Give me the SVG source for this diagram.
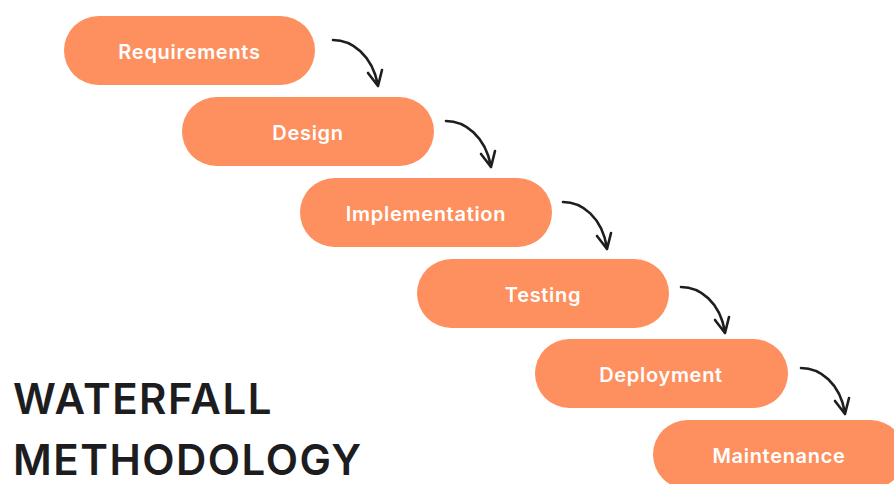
<svg xmlns="http://www.w3.org/2000/svg" width="894" height="484" viewBox="0 0 894 484">
<style>
.pill{fill:#FE8F5F;}
.lbl{font-family:Inter,"Noto Sans",sans-serif;font-size:20px;font-weight:600;letter-spacing:0.7px;fill:#ffffff;text-anchor:middle;}
.arr{fill:none;stroke:#1e1e1e;stroke-width:2.6;stroke-linecap:round;stroke-linejoin:round;}
.title{font-family:Inter,"Noto Sans",sans-serif;font-size:42px;font-weight:600;letter-spacing:1.5px;fill:#1d1d1f;}
</style>
<rect width="894" height="484" fill="#ffffff"/>
<g id="requirements"><rect class="pill" x="64" y="16" width="251" height="69" rx="34.5"/><text class="lbl" x="189.5" y="58.5">Requirements</text></g>
<g id="design"><rect class="pill" x="182" y="97" width="252" height="69" rx="34.5"/><text class="lbl" x="308" y="139.5">Design</text></g>
<g id="implementation"><rect class="pill" x="300" y="178" width="252" height="69" rx="34.5"/><text class="lbl" x="426" y="220.5">Implementation</text></g>
<g id="testing"><rect class="pill" x="417" y="259" width="252" height="69" rx="34.5"/><text class="lbl" x="543" y="301.5">Testing</text></g>
<g id="deployment"><rect class="pill" x="535" y="339" width="253" height="69" rx="34.5"/><text class="lbl" x="661" y="381.5">Deployment</text></g>
<g id="maintenance"><rect class="pill" x="653" y="420" width="252" height="69" rx="34.5"/><text class="lbl" x="779" y="462.5">Maintenance</text></g>
<g id="connectors">
<path class="arr" d="M333,40 C352,40 372,55 378,85 M368,73 L378,86 L382,70"/>
<path class="arr" d="M446,121 C465,121 485,136 491,166 M481,154 L491,167 L495,151"/>
<path class="arr" d="M563,202 C582,202 602,217 607,248 M597,236 L607,249 L611,233"/>
<path class="arr" d="M681,287 C700,287 720,302 725,332 M715,320 L725,333 L729,317"/>
<path class="arr" d="M801,368 C820,368 840,383 845,413 M835,401 L845,414 L849,398"/>
</g>
<g id="title">
<text class="title" x="13" y="414">WATERFALL</text>
<text class="title" x="13" y="475">METHODOLOGY</text>
</g>
</svg>
